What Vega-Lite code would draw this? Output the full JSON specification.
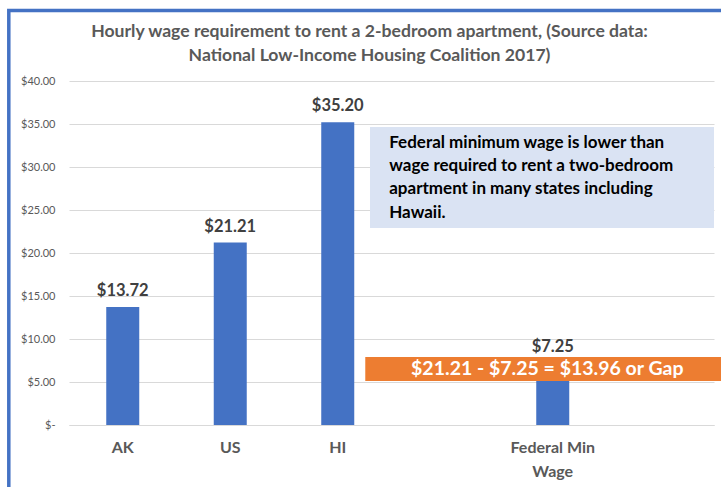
{
  "$schema": "https://vega.github.io/schema/vega-lite/v6.json",
  "autosize": {"type": "none"},
  "width": 645,
  "height": 344,
  "padding": {"left": 69, "top": 81, "right": 7, "bottom": 62},
  "background": "white",
  "config": {
    "view": {"stroke": null},
    "font": "Lato"
  },
  "title": {
    "text": ["Hourly wage requirement to rent a 2-bedroom apartment, (Source data:", "National Low-Income Housing Coalition 2017)"],
    "font": "Lato",
    "fontSize": 17.6,
    "fontWeight": "bold",
    "color": "#595959",
    "lineHeight": 24,
    "anchor": "middle",
    "frame": "group",
    "dx": -22,
    "dy": 66,
    "offset": 10
  },
  "resolve": {"scale": {"x": "independent"}},
  "layer": [
    {
      "data": {
        "values": [
          {"cat": "AK", "wage": 13.72, "label": "$13.72"},
          {"cat": "US", "wage": 21.21, "label": "$21.21"},
          {"cat": "HI", "wage": 35.20, "label": "$35.20"},
          {"cat": "Federal Min Wage", "wage": 7.25, "label": "$7.25"}
        ]
      },
      "encoding": {
        "x": {
          "field": "cat",
          "type": "nominal",
          "sort": null,
          "scale": {"domain": ["AK", "US", "HI", "b1", "Federal Min Wage", "b2"], "paddingInner": 0.693, "paddingOuter": 0.3465},
          "axis": {
            "title": null,
            "labelAngle": 0,
            "labelExpr": "datum.value == 'Federal Min Wage' ? ['Federal Min', 'Wage'] : ((datum.value == 'b1' || datum.value == 'b2') ? '' : datum.value)",
            "labelFont": "Lato",
            "labelFontSize": 16,
            "labelFontWeight": "bold",
            "labelColor": "#595959",
            "labelLineHeight": 24,
            "labelPadding": 14,
            "labelBaseline": "top",
            "ticks": false,
            "domainColor": "#d9d9d9",
            "domainWidth": 1,
            "grid": false
          }
        },
        "y": {
          "field": "wage",
          "type": "quantitative",
          "scale": {"domain": [0, 40], "nice": false, "zero": true},
          "axis": {
            "title": null,
            "values": [0, 5, 10, 15, 20, 25, 30, 35, 40],
            "labelExpr": "datum.value == 0 ? '$-' : '$' + format(datum.value, '.2f')",
            "labelFont": "Lato",
            "labelFontSize": 11,
            "labelColor": "#595959",
            "labelPadding": 14,
            "ticks": false,
            "domain": false,
            "grid": true,
            "gridColor": "#d9d9d9",
            "gridWidth": 1
          }
        }
      },
      "layer": [
        {"mark": {"type": "bar", "color": "#4472c4"}},
        {
          "mark": {"type": "text", "font": "Lato", "fontSize": 16.5, "fontWeight": "bold", "color": "#404040", "baseline": "alphabetic", "dy": -11},
          "encoding": {"text": {"field": "label"}}
        }
      ]
    },
    {
      "data": {
        "values": [
          {"kind": "note", "x1": 2.80, "x2": 6.0, "y1": 22.9, "y2": 34.65},
          {"kind": "gap", "x1": 2.756, "x2": 7.0, "y1": 5.12, "y2": 7.91}
        ]
      },
      "mark": {"type": "rect"},
      "encoding": {
        "x": {"field": "x1", "type": "quantitative", "scale": {"domain": [0, 6], "nice": false, "zero": false}, "axis": null},
        "x2": {"field": "x2"},
        "y": {"field": "y1", "type": "quantitative"},
        "y2": {"field": "y2"},
        "color": {"field": "kind", "type": "nominal", "scale": {"domain": ["note", "gap"], "range": ["#dae3f3", "#ed7d31"]}, "legend": null}
      }
    },
    {
      "data": {
        "values": [
          {"x1": -0.56, "x2": 8.0, "y1": -12.0, "y2": 48.2}
        ]
      },
      "mark": {"type": "rect", "fill": null, "fillOpacity": 0, "stroke": "#4472c4", "strokeWidth": 3.5},
      "encoding": {
        "x": {"field": "x1", "type": "quantitative", "scale": {"domain": [0, 6], "nice": false, "zero": false}, "axis": null},
        "x2": {"field": "x2"},
        "y": {"field": "y1", "type": "quantitative"},
        "y2": {"field": "y2"}
      }
    },
    {
      "data": {
        "values": [
          {"x": 4.449, "y": 6.51, "t": "$21.21 - $7.25 = $13.96 or Gap"}
        ]
      },
      "mark": {"type": "text", "font": "Lato", "fontSize": 19.5, "fontWeight": "bold", "color": "white", "baseline": "middle", "align": "center"},
      "encoding": {
        "x": {"field": "x", "type": "quantitative", "scale": {"domain": [0, 6], "nice": false, "zero": false}, "axis": null},
        "y": {"field": "y", "type": "quantitative"},
        "text": {"field": "t"}
      }
    },
    {
      "data": {
        "values": [
          {"x": 2.979, "y": 32.8, "t": "Federal minimum wage is lower than"},
          {"x": 2.979, "y": 30.1, "t": "wage required to rent a two-bedroom"},
          {"x": 2.979, "y": 27.4, "t": "apartment in many states including"},
          {"x": 2.979, "y": 24.7, "t": "Hawaii."}
        ]
      },
      "mark": {"type": "text", "font": "Lato", "fontSize": 17, "fontWeight": "bold", "color": "#000000", "baseline": "middle", "align": "left"},
      "encoding": {
        "x": {"field": "x", "type": "quantitative", "scale": {"domain": [0, 6], "nice": false, "zero": false}, "axis": null},
        "y": {"field": "y", "type": "quantitative"},
        "text": {"field": "t"}
      }
    }
  ]
}
